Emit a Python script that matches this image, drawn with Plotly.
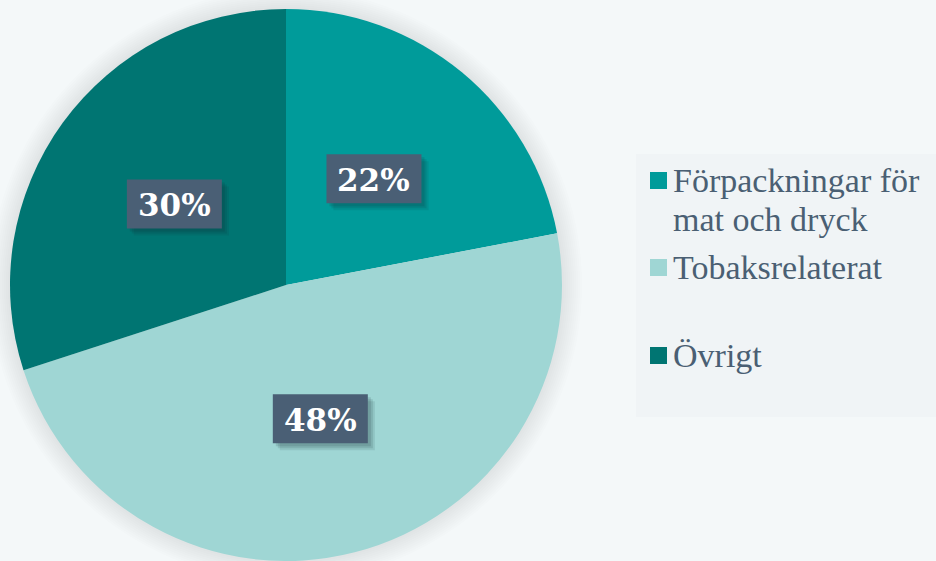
import math
import plotly.graph_objects as go

# ---- data ----
categories = ["Förpackningar för mat och dryck", "Tobaksrelaterat", "Övrigt"]
legend_labels = ["Förpackningar för<br>mat och dryck", "Tobaksrelaterat", "Övrigt"]
values = [22, 48, 30]
colors = ["#009B9A", "#9FD6D4", "#007572"]

W, H = 936, 561
BG = "#F4F8F9"
LEGEND_BG = "#F0F4F6"
TEXT = "#4A5F73"
BOX = "#4A5F75"

# pie geometry (pixels)
cx, cy, R = 286, 285, 276

def px(x):
    return x / W

def py(y):
    return 1 - y / H

fig = go.Figure()
fig.add_trace(go.Pie(
    labels=categories, values=values, sort=False, direction="clockwise",
    rotation=0, marker=dict(colors=colors, line=dict(width=0)),
    textinfo="none", showlegend=False, hoverinfo="label+percent",
    domain=dict(x=[px(cx - R), px(cx + R)], y=[py(cy + R), py(cy - R)]),
))

shapes = []
# soft shadow around the pie
for k in range(1, 11):
    r = R + 2 * k
    shapes.append(dict(type="circle", xref="paper", yref="paper",
                       x0=px(cx - r), x1=px(cx + r), y0=py(cy + r), y1=py(cy - r),
                       fillcolor="rgba(60,70,75,0.013)", line=dict(width=0),
                       layer="below"))

annotations = []
# percentage labels at half radius, slice mid-angle
total = sum(values)
cum = 0
bw, bh = 95, 49
for v in values:
    mid = (cum + v / 2) / total * 2 * math.pi
    cum += v
    lx = cx + 0.5 * R * math.sin(mid)
    ly = cy - 0.5 * R * math.cos(mid)
    # box shadow
    for s, op in [(7, 0.10), (5, 0.12), (3, 0.14)]:
        shapes.append(dict(type="rect", xref="paper", yref="paper",
                           x0=px(lx - bw / 2 + s), x1=px(lx + bw / 2 + s),
                           y0=py(ly + bh / 2 + s), y1=py(ly - bh / 2 + s),
                           fillcolor=f"rgba(20,40,50,{op})", line=dict(width=0),
                           layer="above"))
    shapes.append(dict(type="rect", xref="paper", yref="paper",
                       x0=px(lx - bw / 2), x1=px(lx + bw / 2),
                       y0=py(ly + bh / 2), y1=py(ly - bh / 2),
                       fillcolor=BOX, line=dict(width=0), layer="above"))
    annotations.append(dict(x=px(lx), y=py(ly + 1), xref="paper", yref="paper",
                            text=f"<b>{v}%</b>", showarrow=False,
                            font=dict(family="DejaVu Serif", size=31, color="white"),
                            xanchor="center", yanchor="middle"))

# legend
shapes.append(dict(type="rect", xref="paper", yref="paper",
                   x0=px(636), x1=px(936), y0=py(417), y1=py(154),
                   fillcolor=LEGEND_BG, line=dict(width=0), layer="below"))
sq_tops = [172, 259, 347]
line_gap = 39
for lab, col, t in zip(legend_labels, colors, sq_tops):
    shapes.append(dict(type="rect", xref="paper", yref="paper",
                       x0=px(650), x1=px(667), y0=py(t + 17), y1=py(t),
                       fillcolor=col, line=dict(width=0), layer="above"))
    for i, line in enumerate(lab.split("<br>")):
        annotations.append(dict(x=px(671), y=py(t - 12 + i * line_gap),
                                xref="paper", yref="paper",
                                text=line, showarrow=False, align="left",
                                font=dict(family="Liberation Serif", size=34, color=TEXT),
                                xanchor="left", yanchor="top"))

fig.update_layout(
    width=W, height=H, margin=dict(l=0, r=0, t=0, b=0),
    paper_bgcolor=BG, plot_bgcolor=BG,
    shapes=shapes, annotations=annotations, showlegend=False,
)
fig.write_html("out.html")
